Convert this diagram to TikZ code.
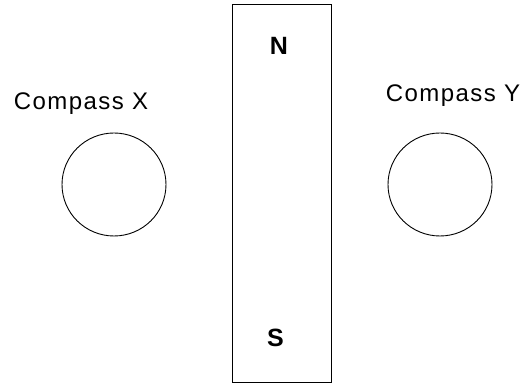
\documentclass[tikz,border=0pt]{standalone}
\usepackage{fontspec}
\setmainfont{Liberation Sans}
\newfontfamily\captionfont[LetterSpace=6]{Liberation Sans}
\usetikzlibrary{shapes.geometric}

\begin{document}
\begin{tikzpicture}
  [
  x=1pt, y=-1pt, line width=0.9pt, draw=black,
  compass/.style={ellipse, inner sep = 0pt, minimum width = 104pt, minimum height = 103pt, draw=black},
  magnet/.style={rectangle, inner sep = 0pt, minimum width = 99pt, minimum height = 378pt, draw=black},
  pole/.style={font=\fontsize{25}{25}\selectfont\bfseries, inner sep = 0pt},
  caption/.style={font=\captionfont\fontsize{24}{24}\selectfont, anchor=base, inner sep = 0pt},
  ]

\useasboundingbox (0,0) rectangle (523,385);

\node[magnet] (bar) at (281.5,193) {};
\node[pole] (north) at (279,46) {N};
\node[pole] (south) at (275.5,338) {S};

\node[compass] (cx) at (114,184.5) {};
\node[compass] (cy) at (440,184.5) {};

\node[caption] (capx) at (81,110) {Compass X};
\node[caption] (capy) at (453,102) {Compass Y};
\end{tikzpicture}
\end{document}
